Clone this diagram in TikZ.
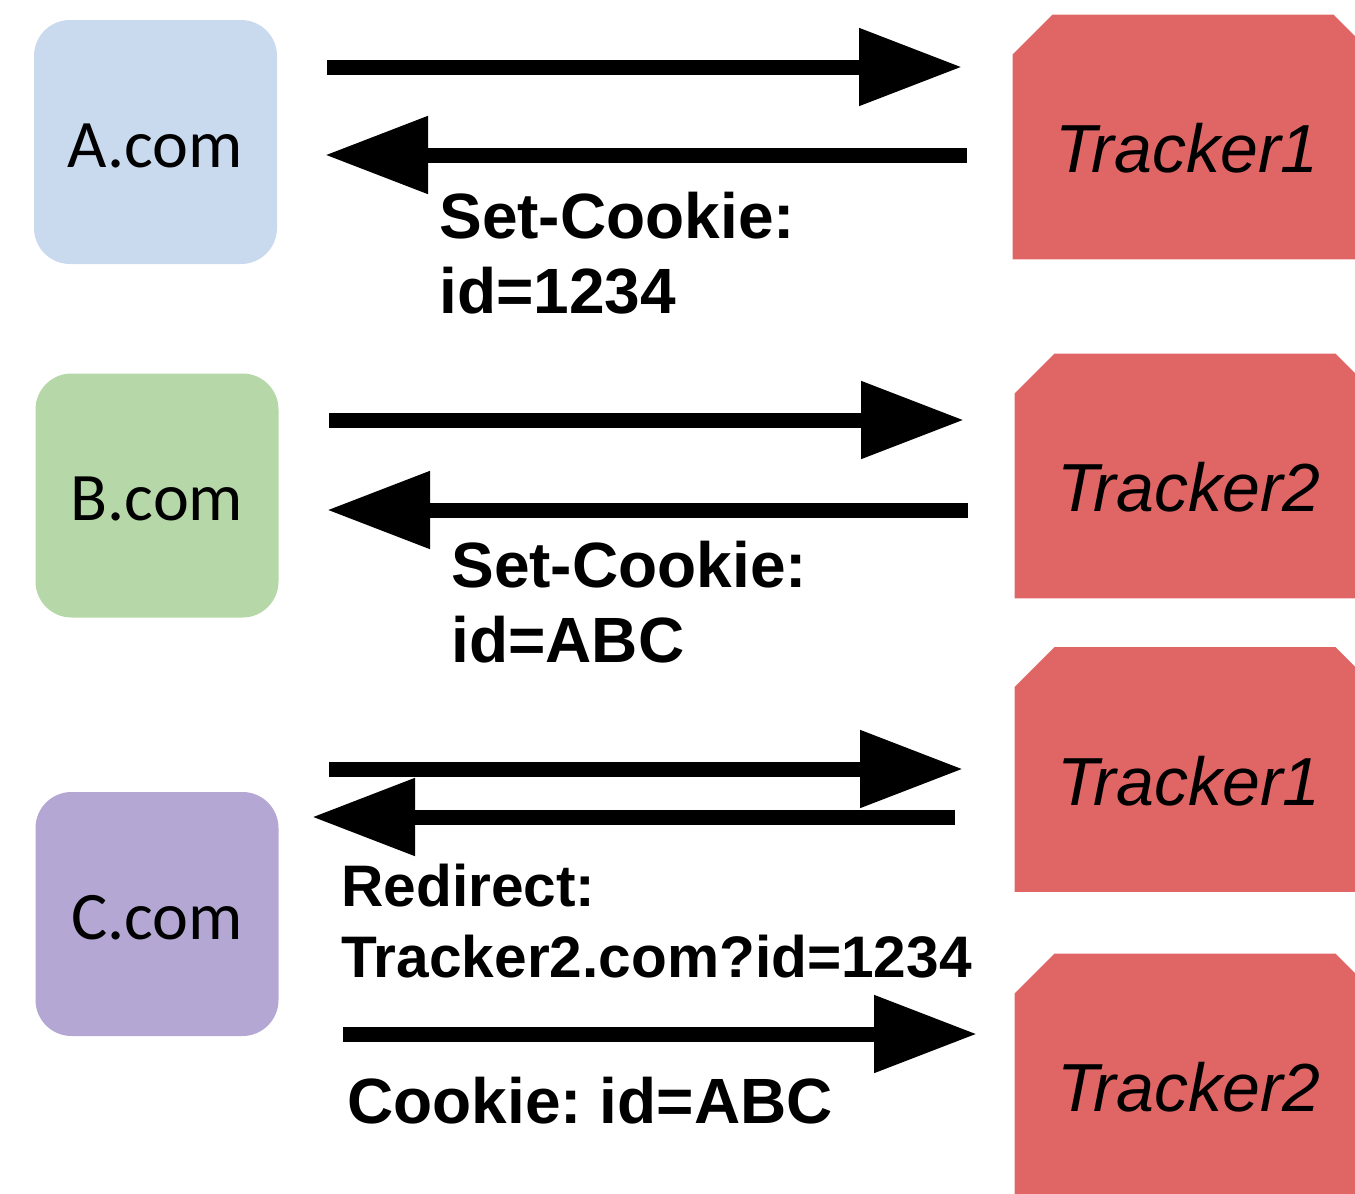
\documentclass[tikz,border=0pt]{standalone}
\usepackage{fontspec}
\setmainfont{Liberation Sans}
\newfontfamily\sitefont{Carlito}
\usetikzlibrary{arrows.meta,backgrounds,calc}
\frenchspacing

\definecolor{siteA}{HTML}{C9D9EE}
\definecolor{siteB}{HTML}{B6D7A8}
\definecolor{siteC}{HTML}{B4A7D4}
\definecolor{trk}{HTML}{E06666}

\tikzset{
  site/.style={rectangle, rounded corners=18pt, draw=none, inner sep=0pt,
    minimum width=121.5pt, minimum height=122pt,
    font=\sitefont\fontsize{34}{40}\selectfont, text height=25pt, text depth=0pt},
  tracker/.style={rectangle, draw=none, inner sep=0pt,
    minimum width=180pt, minimum height=122pt,
    font=\itshape\fontsize{34}{40}\selectfont, text height=35.5pt, text depth=0pt},
  flow/.style={line width=7.5pt, -{Triangle[length=51.5pt,width=37pt]}},
  msg/.style={anchor=base west, inner sep=0pt, align=left,
    font=\bfseries\fontsize{32}{37.5}\selectfont},
  msgsmall/.style={msg, font=\bfseries\fontsize{29.3}{35.5}\selectfont}
}

% body of a tracker: rectangle with its two top corners cut off,
% set 3pt to the right of its label
\newcommand\trackerbody[1]{%
  \fill[trk] ([xshift=3pt]#1.south west) -- ([xshift=3pt,yshift=-20pt]#1.north west)
    -- ([xshift=23pt]#1.north west) -- ([xshift=-17pt]#1.north east)
    -- ([xshift=3pt,yshift=-20pt]#1.north east) -- ([xshift=3pt]#1.south east) -- cycle;}

\begin{document}
\begin{tikzpicture}[x=0.5pt, y=-0.5pt]
  \useasboundingbox (0,0) rectangle (1355,1194);
  \clip (0,0) rectangle (1355,1194);

  % first-party sites
  \node[site, fill=siteA] (A) at (155.5,142) {A.com};
  \node[site, fill=siteB] (B) at (157,495.5) {B.com};
  \node[site, fill=siteC] (C) at (157,914) {C.com};

  % third-party trackers
  \node[tracker] (T1a) at (1187,137) {Tracker1};
  \node[tracker] (T2a) at (1189,476) {Tracker2};
  \node[tracker] (T1b) at (1189,769.5) {Tracker1};
  \node[tracker] (T2b) at (1189,1076) {Tracker2};
  \begin{scope}[on background layer]
    \trackerbody{T1a}
    \trackerbody{T2a}
    \trackerbody{T1b}
    \trackerbody{T2b}
  \end{scope}

  % arrow end points
  \coordinate (r1s) at (327,67);   \coordinate (r1e) at (962,67);
  \coordinate (l1s) at (967,155);  \coordinate (l1e) at (325,155);
  \coordinate (r2s) at (329,420);  \coordinate (r2e) at (964,420);
  \coordinate (l2s) at (968,510);  \coordinate (l2e) at (327,510);
  \coordinate (r3s) at (329,769);  \coordinate (r3e) at (963,769);
  \coordinate (l3s) at (955,817);  \coordinate (l3e) at (312,817);
  \coordinate (r4s) at (343,1034); \coordinate (r4e) at (977,1034);

  \draw[flow] (r1s) -- (r1e);
  \draw[flow] (l1s) -- (l1e);
  \draw[flow] (r2s) -- (r2e);
  \draw[flow] (l2s) -- (l2e);
  \draw[flow] (r3s) -- (r3e);
  \draw[flow] (l3s) -- (l3e);
  \draw[flow] (r4s) -- (r4e);

  % HTTP messages (anchored at the baseline of the last line)
  \node[msg] (m1) at (439,313) {Set-Cookie:\\id=1234};
  \node[msg] (m2) at (451,662) {Set-Cookie:\\id=ABC};
  \node[msgsmall] (m3) at (341,977) {Redirect:\\Tracker2.com?id=1234};
  \node[msg] (m4) at (347,1123) {Cookie: id=ABC};
\end{tikzpicture}
\end{document}
